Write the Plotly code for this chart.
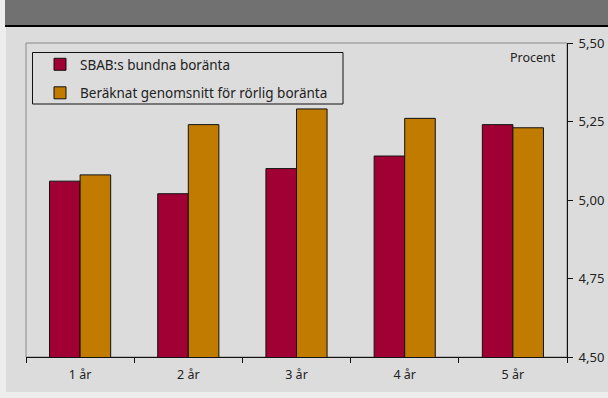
import plotly.graph_objects as go

categories = ["1 år", "2 år", "3 år", "4 år", "5 år"]
sbab_bunden = [5.06, 5.02, 5.10, 5.14, 5.24]
rorlig_snitt = [5.08, 5.24, 5.29, 5.26, 5.23]
y_ticks = [4.50, 4.75, 5.00, 5.25, 5.50]

W, H = 608, 398
ML, MR, MT, MB = 26, 41, 43, 41

fig = go.Figure()
fig.add_trace(go.Bar(
    x=categories, y=sbab_bunden, name="SBAB:s bundna boränta",
    marker=dict(color="#a10034", line=dict(color="#111111", width=1)),
    legendgroup="a",
))
fig.add_trace(go.Bar(
    x=categories, y=rorlig_snitt, name="Beräknat genomsnitt för rörlig boränta",
    marker=dict(color="#c17c00", line=dict(color="#111111", width=1)),
    legendgroup="b",
))

def px_x(p):
    return (p - ML) / (W - ML - MR)

def px_y(p):
    return (H - MB - p) / (H - MT - MB)

shapes = [
    # banner
    dict(type="rect", xref="paper", yref="paper", x0=px_x(5), x1=px_x(W + 2), y0=px_y(25), y1=px_y(-2),
         fillcolor="#717171", line=dict(width=0), layer="below"),
    dict(type="rect", xref="paper", yref="paper", x0=px_x(5), x1=px_x(W + 2), y0=px_y(27), y1=px_y(25),
         fillcolor="#000000", line=dict(width=0), layer="below"),
    # chart area
    dict(type="rect", xref="paper", yref="paper", x0=px_x(6), x1=px_x(W + 2), y0=px_y(392), y1=px_y(27),
         fillcolor="#dcdcdc", line=dict(width=0), layer="below"),
    # plot frame (gray)
    dict(type="rect", xref="paper", yref="paper", x0=0, x1=1, y0=0, y1=1,
         fillcolor="rgba(0,0,0,0)", line=dict(color="#8a8a8a", width=1), layer="below"),
    # legend box
    dict(type="rect", xref="paper", yref="paper", x0=px_x(32.5), x1=px_x(343), y0=px_y(104), y1=px_y(52.5),
         fillcolor="#dcdcdc", line=dict(color="#111111", width=1), layer="above"),
]

fig.update_layout(
    width=W, height=H,
    margin=dict(l=ML, r=MR, t=MT, b=MB, pad=0, autoexpand=False),
    paper_bgcolor="#ededed",
    plot_bgcolor="#dcdcdc",
    separators=",.",
    font=dict(family="Noto Sans", size=12, color="#222222"),
    barmode="group",
    bargap=0.435,
    bargroupgap=0,
    showlegend=True,
    legend=dict(
        x=px_x(40), y=px_y(49), xanchor="left", yanchor="top",
        bgcolor="rgba(0,0,0,0)", borderwidth=0,
        font=dict(size=13.5, color="#222222"),
        tracegroupgap=8, traceorder="grouped",
    ),
    shapes=shapes,
    annotations=[
        dict(text="Procent", xref="paper", yref="paper", x=px_x(558), y=px_y(57),
             xanchor="right", yanchor="middle", showarrow=False,
             font=dict(size=12.5, color="#222222")),
    ],
    xaxis=dict(
        showgrid=False, zeroline=False,
        showline=True, linecolor="#111111", linewidth=1,
        ticks="outside", ticklen=5, tickcolor="#111111", tickson="boundaries",
        tickfont=dict(size=12.5, color="#222222"),
        ticklabelstandoff=6,
        automargin=False,
        fixedrange=True,
    ),
    yaxis=dict(
        side="right", range=[4.5, 5.5], tickvals=y_ticks, tickformat=".2f",
        showgrid=False, zeroline=False,
        showline=True, linecolor="#111111", linewidth=1,
        ticks="outside", ticklen=5, tickcolor="#111111",
        tickfont=dict(size=13, color="#222222"),
        ticklabelstandoff=3,
        automargin=False,
        fixedrange=True,
    ),
)

fig.write_html("out.html", config=dict(displayModeBar=False))
